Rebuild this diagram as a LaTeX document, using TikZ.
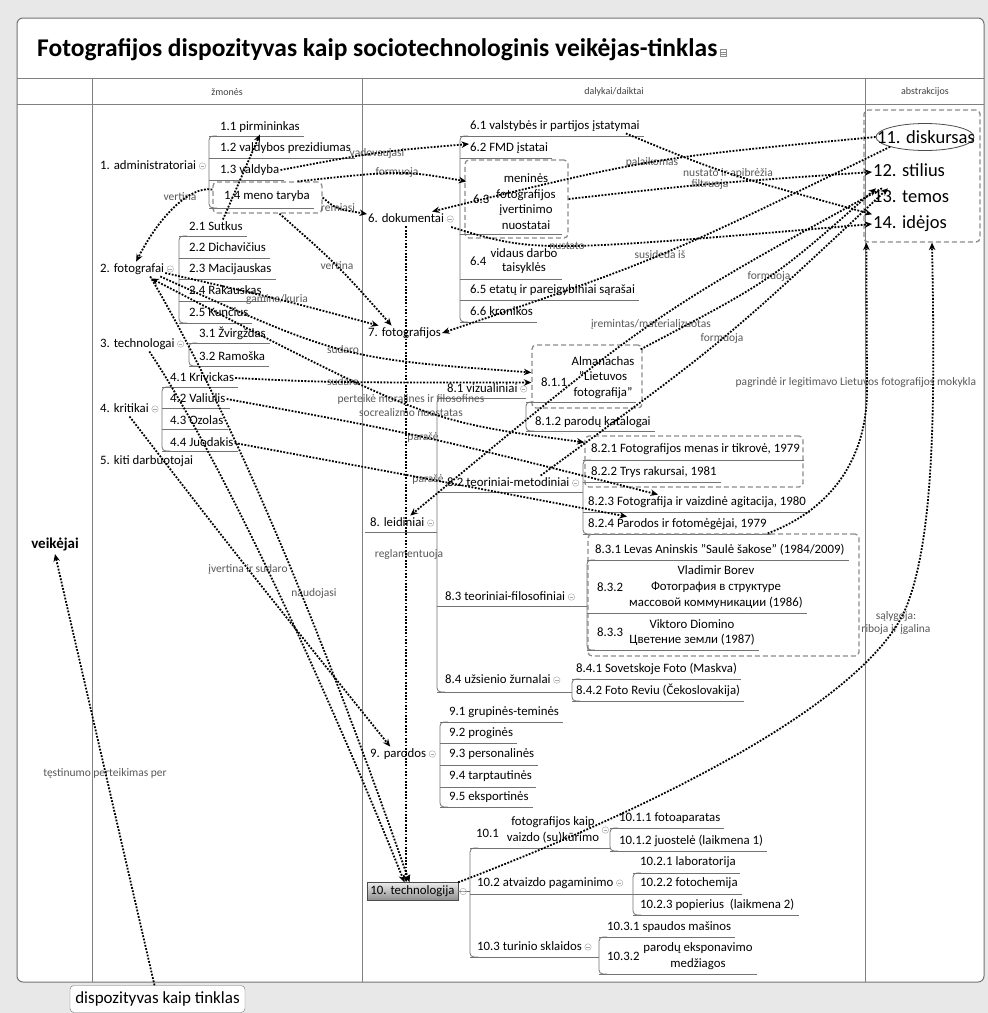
\documentclass[tikz,border=0pt]{standalone}
\usepackage{fontspec}
\setmainfont{Carlito}
\usetikzlibrary{arrows.meta,calc,shapes.geometric}
\newcommand\mkul[3]{\draw[ulst] (#2,#3) -- ($(#1.east |- 0,#3)+(3,0)$);}
\newcommand\mkulx[3]{\draw[ulst] (#1,#3) -- (#2,#3);}
\newcommand\mkbr[3]{\draw[ulst,rounded corners=4pt] (#1+8,#2) -- (#1,#2) -- (#1,#3) -- (#1+8,#3);}
\newcommand\mkcq[4][]{\draw[con,#1] (#2) .. controls ($1.3333*(#4)-0.16667*(#2)-0.16667*(#3)$) .. (#3);}
\begin{document}
\begin{tikzpicture}[x=1pt,y=-1pt,
  t/.style={font=\fontsize{12.8}{15}\selectfont, inner sep=1pt, text height=9.5pt, text depth=3pt, anchor=west},
  tf/.style={font=\fontsize{18.5}{22}\selectfont, inner sep=1pt, text height=13pt, text depth=4pt, anchor=west},
  tm/.style={inner sep=1pt, align=center},
  lab/.style={font=\fontsize{11.5}{13}\selectfont, text=black!65, inner sep=0.5pt},
  hdr/.style={font=\fontsize{10}{12}\selectfont, text=black!75},
  ulst/.style={draw=black!55, line width=0.8pt},
  dbox/.style={draw=black!45, line width=1.3pt, dash pattern=on 5pt off 3pt, rounded corners=4pt},
  con/.style={line width=1.8pt, dash pattern=on 1.8pt off 1.5pt, -{Stealth[length=7.5pt,width=6.5pt]}},
  both/.style={{Stealth[length=7.5pt,width=6.5pt]}-{Stealth[length=7.5pt,width=6.5pt]}},
  col/.style={circle, draw=black!30, minimum size=6.5pt, inner sep=0pt, line width=0.5pt,
    path picture={\draw[black!35,line width=0.5pt] ([xshift=-1.8pt]path picture bounding box.center) -- ([xshift=1.8pt]path picture bounding box.center);}},
]
\useasboundingbox (0,0) rectangle (988,1013);
\fill[black!9] (0,0) rectangle (988,1013);
\draw[black!55, line width=1pt, fill=white, rounded corners=6pt] (17,18) rectangle (984,982);
\draw[black!50, line width=0.8pt] (17,78) -- (984,78);
\draw[black!50, line width=0.8pt] (17,104) -- (984,104);
\foreach \x in {92,362,865} \draw[black!50, line width=0.8pt] (\x,78) -- (\x,982);

\node[anchor=west, font=\fontsize{25.5}{28}\selectfont\bfseries, inner sep=0pt] (title) at (37,50) {Fotografijos dispozityvas kaip sociotechnologinis veikėjas-tinklas};
\node[draw=black!45, line width=0.4pt, minimum width=6pt, minimum height=7pt, inner sep=0pt,
  path picture={\draw[black!45,line width=0.4pt] ([yshift=1pt]path picture bounding box.west) -- ([yshift=1pt]path picture bounding box.east) ([yshift=-1pt]path picture bounding box.west) -- ([yshift=-1pt]path picture bounding box.east);}] (ticon) at ($(title.east)+(6,3)$) {};
\node[hdr] (h1) at (227,92) {žmonės};
\node[hdr] (h2) at (614,92) {dalykai/daiktai};
\node[hdr] (h3) at (925,92) {abstrakcijos};

\node[font=\fontsize{15}{18}\selectfont\bfseries] (veik) at (55,544) {veikėjai};
\node[draw=black!55, fill=white, rounded corners=4pt, font=\fontsize{17}{20}\selectfont, minimum width=175pt, minimum height=27pt, inner sep=2pt] (disp) at (157.5,999) {dispozityvas kaip tinklas};

% group 1
\node[t] (adm) at (99,166) {1. administratoriai};
\node[t] (n11) at (219,127) {1.1 pirmininkas};
\node[t] (n12) at (219,148) {1.2 valdybos prezidiumas};
\node[t] (n13) at (219,170) {1.3 valdyba};
\node[dbox,minimum width=109pt,minimum height=31pt] (mt) at (267.5,197.5) {};
\node[t] (n14) at (223,196) {1.4 meno taryba};
\mkul{n11}{209}{136} \mkul{n12}{209}{158} \mkul{n13}{209}{180} \mkul{n14}{209}{208}
\mkbr{209}{136}{208}

% group 2
\node[t] (fot) at (99,269) {2. fotografai};
\node[t] (n21) at (188,227) {2.1 Sutkus};
\node[t] (n22) at (188,248) {2.2 Dichavičius};
\node[t] (n23) at (188,269) {2.3 Macijauskas};
\node[t] (n24) at (188,291) {2.4 Rakauskas};
\node[t] (n25) at (188,313) {2.5 Kunčius};
\mkul{n21}{179}{236} \mkul{n22}{179}{258} \mkul{n23}{179}{279} \mkul{n24}{179}{301} \mkul{n25}{179}{323}
\mkbr{179}{236}{323}

% group 3
\node[t] (tech) at (99,344) {3. technologai};
\node[t] (n31) at (198,334) {3.1 Žvirgždas};
\node[t] (n32) at (198,357) {3.2 Ramoška};
\mkul{n31}{189}{343} \mkul{n32}{189}{366}
\mkbr{189}{343}{366}

% group 4
\node[t] (krit) at (99,409) {4. kritikai};
\node[t] (n41) at (169,378) {4.1 Krivickas};
\node[t] (n42) at (169,399) {4.2 Valiulis};
\node[t] (n43) at (169,421) {4.3 Ozolas};
\node[t] (n44) at (169,443) {4.4 Juodakis};
\mkul{n41}{162}{387} \mkul{n42}{162}{408} \mkul{n43}{162}{429} \mkul{n44}{162}{451}
\mkbr{162}{387}{451}
\node[t] (kiti) at (99,461) {5. kiti darbuotojai};

% group 6
\node[t] (dok) at (367,219) {6. dokumentai};
\node[t] (n61) at (469,126) {6.1 valstybės ir partijos įstatymai};
\node[t] (n62) at (469,148) {6.2 FMD įstatai};
\node[dbox,minimum width=103pt,minimum height=78pt] (b63) at (516.5,199) {};
\node[t] (n63a) at (472,200) {6.3};
\node[tm,font=\fontsize{12.8}{15.5}\selectfont] (n63) at (526,201.5) {meninės\\fotografijos\\įvertinimo\\nuostatai};
\node[t] (n64a) at (469,262) {6.4};
\node[tm,font=\fontsize{12.8}{14.5}\selectfont] (n64) at (524,261) {vidaus darbo\\taisyklės};
\node[t] (n65) at (469,290) {6.5 etatų ir pareigybiniai sąrašai};
\node[t] (n66) at (469,312) {6.6 kronikos};
\mkul{n61}{460}{136} \mkul{n62}{460}{158} \mkulx{460}{562}{234} \mkulx{460}{562}{279} \mkul{n65}{460}{300} \mkul{n66}{460}{322}
\mkbr{460}{136}{322}

\node[t] (fotj) at (367,333) {7. fotografijos};

% group 8
\node[t] (leid) at (369,523) {8. leidiniai};
\mkulx{365}{437}{532}
\mkbr{437}{398}{692}
\node[t] (n81) at (446,389) {8.1 vizualiniai};
\mkulx{437}{526}{398}
\node[dbox,minimum width=110pt,minimum height=63pt] (alm) at (587,376.5) {};
\node[t] (n811a) at (540,383) {8.1.1};
\node[tm,font=\fontsize{12.8}{15.5}\selectfont] (n811) at (603,377.5) {Almanachas\\"Lietuvos\\fotografija"};
\node[t] (n812) at (534,422) {8.1.2 parodų katalogai};
\mkulx{526}{636}{402} \mkul{n812}{526}{431}
\mkbr{526}{402}{431}

\node[t] (n82) at (446,483) {8.2 teoriniai-metodiniai};
\mkulx{437}{583}{492}
\node[dbox,minimum width=218pt,minimum height=51pt] (b82) at (694,461.5) {};
\node[t] (n821) at (590,449) {8.2.1 Fotografijos menas ir tikrovė, 1979};
\node[t] (n822) at (590,472) {8.2.2 Trys rakursai, 1981};
\node[t] (n823) at (587,502) {8.2.3 Fotografija ir vaizdinė agitacija, 1980};
\node[t] (n824) at (587,524) {8.2.4 Parodos ir fotomėgėjai, 1979};
\mkul{n821}{583}{460} \mkul{n822}{583}{482} \mkul{n823}{583}{512} \mkul{n824}{583}{534}
\mkbr{583}{460}{534}

\node[t] (n83) at (444,597) {8.3 teoriniai-filosofiniai};
\mkulx{437}{587}{606}
\node[dbox,minimum width=271pt,minimum height=122pt] (b83) at (723.5,595) {};
\node[t] (n831) at (594,550) {8.3.1 Levas Aninskis "Saulė šakose" (1984/2009)};
\node[t] (n832a) at (596,588) {8.3.2};
\node[tm,font=\fontsize{12.8}{16}\selectfont] (n832) at (716,587) {Vladimir Borev\\Фотография в структуре\\массовой коммуникации (1986)};
\node[t] (n833a) at (596,633) {8.3.3};
\node[tm,font=\fontsize{12.8}{15}\selectfont] (n833) at (692,632.5) {Viktoro Diomino\\Цветение земли (1987)};
\mkul{n831}{587}{560} \mkul{n832}{587}{613} \mkul{n833}{587}{650}
\mkbr{587}{560}{650}

\node[t] (n84) at (444,680) {8.4 užsienio žurnalai};
\mkulx{437}{572}{692}
\node[t] (n841) at (575,669) {8.4.1 Sovetskoje Foto (Maskva)};
\node[t] (n842) at (575,691) {8.4.2 Foto Reviu (Čekoslovakija)};
\mkul{n841}{572}{679} \mkul{n842}{572}{701}
\mkbr{572}{679}{701}

% group 9
\node[t] (n9) at (369,754) {9. parodos};
\node[t] (n91) at (448,712) {9.1 grupinės-teminės};
\node[t] (n92) at (448,733) {9.2 proginės};
\node[t] (n93) at (448,754) {9.3 personalinės};
\node[t] (n94) at (448,776) {9.4 tarptautinės};
\node[t] (n95) at (448,797) {9.5 eksportinės};
\mkul{n91}{440}{722} \mkul{n92}{440}{743} \mkul{n93}{440}{765} \mkul{n94}{440}{787} \mkul{n95}{440}{807}
\mkbr{440}{722}{807}

% group 10
\node[draw=black!70, top color=black!8, bottom color=black!45, font=\fontsize{12.8}{15}\selectfont, minimum width=91pt, minimum height=18pt, inner sep=1pt] (tech10) at (412.5,891.5) {10. technologija};
\mkbr{470}{848}{957}
\draw[ulst] (tech10.east) -- (470,891.5);
\node[t] (n101a) at (475,834) {10.1};
\node[tm,font=\fontsize{12.8}{16}\selectfont] (n101) at (553,830) {fotografijos kaip\\vaizdo (su)kūrimo};
\mkulx{470}{610}{848}
\node[t] (n1011) at (618,818) {10.1.1 fotoaparatas};
\node[t] (n1012) at (618,841) {10.1.2 juostelė (laikmena 1)};
\mkul{n1011}{610}{828} \mkul{n1012}{610}{851}
\mkbr{610}{828}{851}
\node[t] (n102) at (476,883) {10.2 atvaizdo pagaminimo};
\mkulx{470}{633}{894}
\node[t] (n1021) at (639,862) {10.2.1 laboratorija};
\node[t] (n1022) at (639,883) {10.2.2 fotochemija};
\node[t] (n1023) at (639,905) {10.2.3 popierius\ \ (laikmena 2)};
\mkul{n1021}{633}{873} \mkul{n1022}{633}{894} \mkul{n1023}{633}{915}
\mkbr{633}{873}{915}
\node[t] (n103) at (476,947) {10.3 turinio sklaidos};
\mkulx{470}{599}{957}
\node[t] (n1031) at (606,927) {10.3.1 spaudos mašinos};
\node[t] (n1032a) at (606,957) {10.3.2};
\node[tm,font=\fontsize{12.8}{16}\selectfont] (n1032) at (698,956) {parodų eksponavimo\\medžiagos};
\mkul{n1031}{599}{937} \mkul{n1032}{599}{974}
\mkbr{599}{937}{974}

% collapse icons
\foreach \n/\i in {adm/1,fot/2,tech/3,krit/4,dok/5,n81/6,n82/7,leid/8,n83/9,n84/10,n9/11,n101/12,n102/13,n103/14}
  \node[col] (c\i) at ($(\n.east)+(5,0)$) {};
\node[col] (c15) at ($(tech10.east)+(5,0)$) {};

% abstractions
\node[dbox,minimum width=116pt,minimum height=132pt] (absbox) at (922,176) {};
\node[ellipse, draw=black!70, line width=0.8pt, minimum width=98pt, minimum height=27pt, inner sep=0pt] (disk) at (925,137) {};
\node[font=\fontsize{18.5}{22}\selectfont, inner sep=0pt] (diskt) at (926,137) {11. diskursas};
\node[tf] (stil) at (872,172) {12. stilius};
\node[tf] (tem) at (872,198) {13. temos};
\node[tf] (ide) at (872,224) {14. idėjos};

% labels
\node[lab] (lvad) at (377,153) {vadovaujasi};
\node[lab] (lform1) at (397,173) {formuoja};
\node[lab] (lrem) at (338,208) {remiasi};
\node[lab] (lvert1) at (180,197) {vertina};
\node[lab] (lvert2) at (337,266) {vertina};
\node[lab] (lgam) at (277,299) {gamina/kuria};
\node[lab] (lsud1) at (343,350) {sudaro};
\node[lab] (lsud2) at (343,382) {sudaro};
\node[lab,align=center,font=\fontsize{11.5}{14}\selectfont] (lpert) at (411,406) {perteikė moralines ir filosofines\\socrealizmo nuostatas};
\node[lab] (lpar1) at (423,437) {parašė};
\node[lab] (lpar2) at (428,479) {parašė};
\node[lab] (lreg) at (409,554) {reglamentuoja};
\node[lab] (livert) at (248,569) {įvertina ir sudaro};
\node[lab] (lnaud) at (314,593) {naudojasi};
\node[lab] (ltest) at (105,773) {tęstinumo perteikimas per};
\node[lab] (lpal) at (652,162) {palaikomas};
\node[lab] (lnia) at (728,173) {nustato ir apibrėžia};
\node[lab] (lfilt) at (710,184) {filtruoja};
\node[lab] (lnust) at (567,246) {nustato};
\node[lab] (lsus) at (660,255) {susideda iš};
\node[lab] (lform2) at (769,277) {formuoja};
\node[lab] (lirem) at (651,324) {įremintas/materializuotas};
\node[lab] (lform3) at (722,339) {formuoja};
\node[lab,anchor=west] (lpagr) at (735,382) {pagrindė ir legitimavo Lietuvos fotografijos mokykla};
\node[lab,align=center,font=\fontsize{11.5}{13.5}\selectfont] (lsal) at (896,623) {sąlygoja:\\riboja ir įgalina};

% endpoints
\coordinate (e62) at ($(n62.west)+(0,-4)$);
\coordinate (emt1) at ($(mt.north)+(30,0)$);
\coordinate (e63) at ($(b63.north west)+(2,22)$);
\coordinate (edok1) at ($(dok.west)+(0,-5)$);
\coordinate (emt2) at ($(mt.west)+(0,-8)$);
\coordinate (efot1) at ($(fot.north)+(4,0)$);
\coordinate (emt3) at ($(mt.south)+(12,0)$);
\coordinate (efj1) at ($(fotj.north)+(-13,0)$);
\coordinate (efot2) at ($(fot.east)+(0,4)$);
\coordinate (efj2) at ($(fotj.north)+(-26,0)$);
\coordinate (efot3) at ($(fot.south east)+(-5,0)$);
\coordinate (ealm1) at ($(alm.west)+(0,-4)$);
\coordinate (ealm2) at ($(alm.west)+(0,6)$);
\coordinate (efot4) at ($(fot.south east)+(-14,2)$);
\coordinate (e82) at ($(b82.north west)+(0,7)$);
\coordinate (e823) at ($(n823.north west)+(71,0)$);
\coordinate (e824) at ($(n824.north west)+(40,0)$);
\coordinate (ekr) at ($(krit.south)+(5,0)$);
\coordinate (e9) at ($(n9.north)+(-8,0)$);
\coordinate (edok2) at ($(dok.north)+(26,0)$);
\coordinate (e61) at ($(n61.south east)+(-15,0)$);
\coordinate (edok3) at ($(dok.east)+(6,8)$);
\coordinate (edisk) at (disk.south west);
\coordinate (etem1) at ($(tem.north west)+(10,0)$);
\coordinate (eleid) at ($(leid.north)+(13,0)$);
\coordinate (ealm3) at ($(alm.north east)+(-2,5)$);
\coordinate (etem2) at ($(tem.north west)+(4,0)$);
\coordinate (e82b) at ($(n82.north east)+(-30,0)$);
\coordinate (etem3) at ($(tem.north west)+(16,0)$);
\coordinate (wp1) at (905,610);
\coordinate (wp2) at (867,390);

% connectors
\mkcq{n13.east}{e62}{lvad}
\mkcq{emt1}{e63}{lform1}
\mkcq{mt.east}{edok1}{lrem}
\draw[con] (emt2) .. controls (190,186) and (160,215) .. (efot1);
\mkcq{emt3}{efj1}{lvert2}
\mkcq{efot2}{efj2}{lgam}
\mkcq{efot3}{ealm1}{lsud1}
\mkcq{n41.east}{ealm2}{lsud2}
\mkcq[both]{efot4}{e82}{lpert}
\mkcq{n42.east}{e823}{lpar1}
\mkcq{n44.east}{e824}{lpar2}
\draw[con] ($(n21.north)+(7,0)$) -- (n11.south);
\draw[con] ($(fot.south)+(18,0)$) .. controls (235,420) and (325,640) .. ($(tech10.north)+(-3,0)$);
\draw[con] ($(tech.south)+(12,0)$) .. controls (215,450) and (315,660) .. ($(tech10.north)+(-8,0)$);
\mkcq{ekr}{e9}{livert}
\draw[con] (dok.south) -- (dok.south |- tech10.north);
\mkcq{disk.west}{edok2}{lpal}
\mkcq{e61}{ide.north west}{lnia}
\mkcq{b63.east}{stil.west}{lfilt}
\mkcq{edok3}{ide.west}{lnust}
\mkcq{edisk}{fotj.east}{lsus}
\mkcq{etem1}{eleid}{lirem}
\mkcq{ealm3}{etem2}{lform2}
\mkcq{e82b}{etem3}{lform3}
\draw[con] (tech10.north east) .. controls (700,790) and (870,690) .. (wp1) .. controls (935,540) and (935,400) .. ($(absbox.south)+(10,0)$);
\draw[con] ($(b83.north east)+(-92,0)$) .. controls (830,510) and (867,460) .. (wp2) -- ($(absbox.south west)+(3,0)$);
\draw[con] ($(disp.north)+(-3,0)$) -- (veik.south);
\end{tikzpicture}
\end{document}
